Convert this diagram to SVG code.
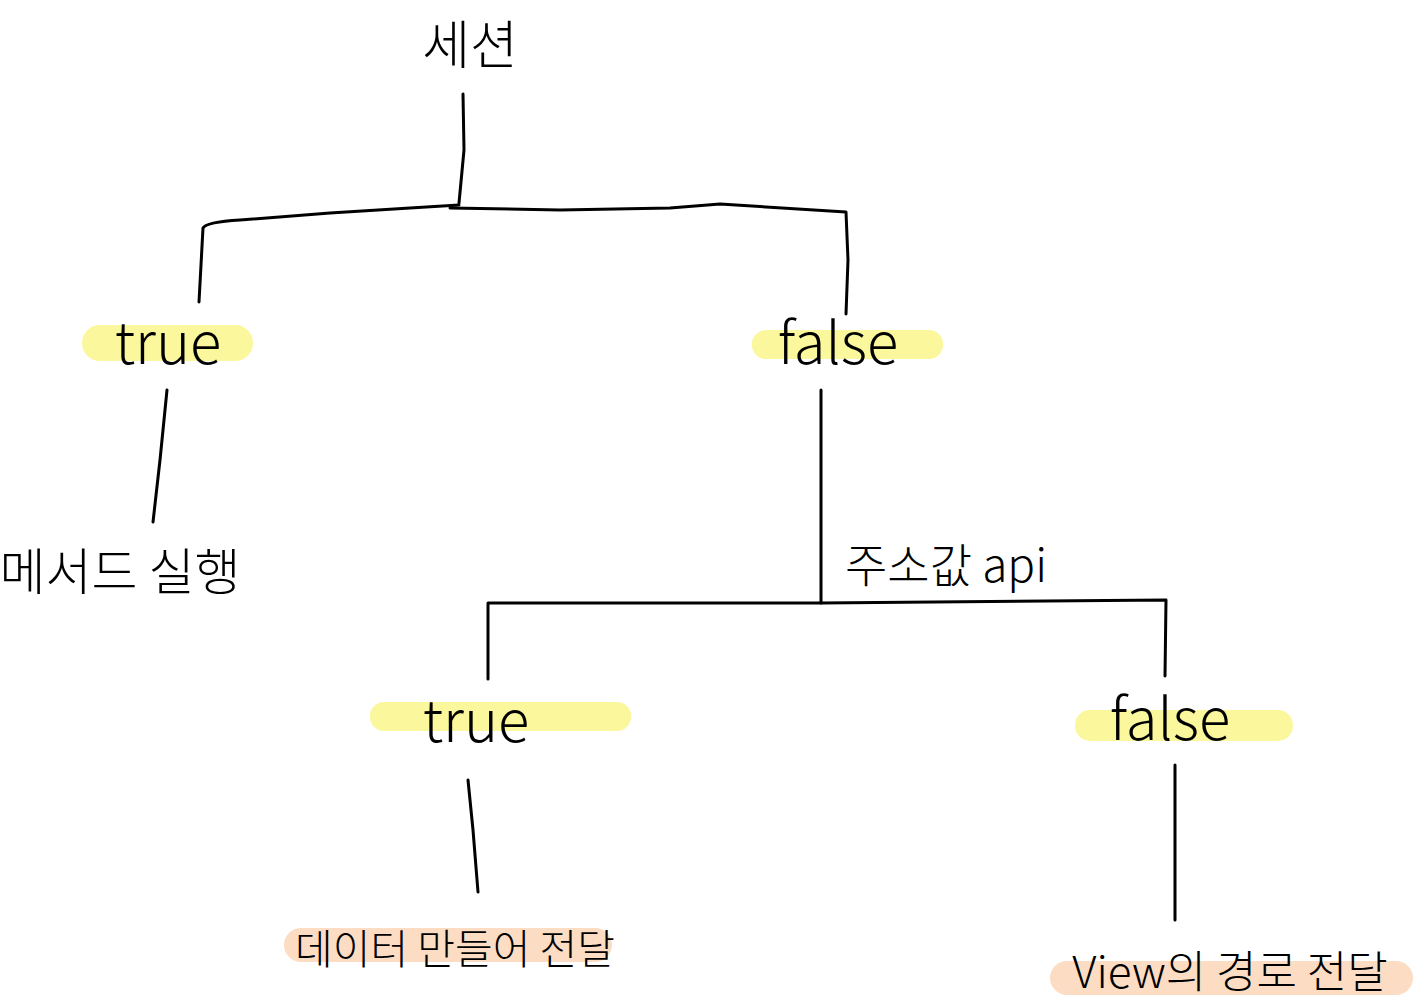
<svg xmlns="http://www.w3.org/2000/svg" width="1415" height="1000" viewBox="0 0 1415 1000">
<style>
.ln{fill:none;stroke:#000;stroke-width:3;stroke-linecap:round;stroke-linejoin:round}
.hy{fill:#fbf79c}
.hp{fill:#fddcc4}
.t{font-family:"Noto Sans CJK KR","Liberation Sans",sans-serif;fill:#000;text-anchor:middle}
.en{font-size:58px;font-weight:300}
.ko{font-size:44px;font-weight:300}
</style>
<rect width="1415" height="1000" fill="#fff"/>
<g id="connectors">
<path class="ln" d="M463 94 L464 150 L459 203"/>
<path class="ln" d="M199 302 L203 228 Q206 222 240 220 L330 213 L410 208 L459 205"/>
<path class="ln" d="M450 208 L560 210 L670 208 L720 204 L846 212 L848 260 L846 314"/>
<path class="ln" d="M167 390 L160 460 L153 522"/>
<path class="ln" d="M821 390 L821 603"/>
<path class="ln" d="M488 679 L488 603 L821 603 L1166 600 L1165 676"/>
<path class="ln" d="M468 780 L473 830 L478 892"/>
<path class="ln" d="M1175 765 L1175 840 L1175 920"/>
</g>
<g id="session"><text class="t ko" x="470" y="64" style="font-size:52px">세션</text></g>
<g id="true1"><rect class="hy" x="82" y="325" width="171" height="36" rx="18"/><text class="t en" x="168" y="364">true</text></g>
<g id="method"><text class="t ko" x="120" y="590" style="font-size:50px">메서드 실행</text></g>
<g id="false1"><rect class="hy" x="752" y="330" width="191" height="29" rx="14"/><text class="t en" x="838" y="364">false</text></g>
<g id="addr"><text class="t ko" x="946" y="582" style="font-size:46px">주소값 api</text></g>
<g id="true2"><rect class="hy" x="370" y="702" width="261" height="29" rx="14"/><text class="t en" x="476" y="742">true</text></g>
<g id="false2"><rect class="hy" x="1075" y="710" width="218" height="31" rx="15"/><text class="t en" x="1170" y="740">false</text></g>
<g id="data"><rect class="hp" x="284" y="928" width="328" height="34" rx="17"/><text class="t ko" x="455" y="964" style="font-size:41px">데이터 만들어 전달</text></g>
<g id="view"><rect class="hp" x="1050" y="961" width="363" height="34" rx="17"/><text class="t ko" x="1230" y="988">View의 경로 전달</text></g>
</svg>
